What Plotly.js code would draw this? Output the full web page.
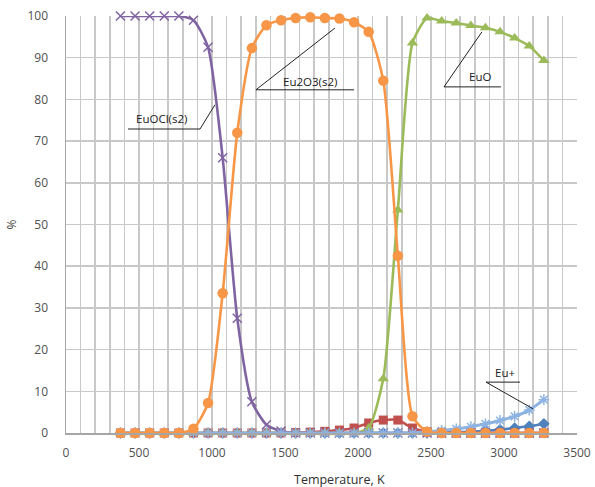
<!DOCTYPE html>
<html>
<head>
<meta charset="utf-8">
<script src="https://cdn.plot.ly/plotly-3.0.1.min.js"></script>
<style>html,body{margin:0;padding:0;background:#fff}#chart{width:595px;height:487px}</style>
</head>
<body>
<div id="chart"></div>
<script>
const temperature = [373,473,573,673,773,873,973,1073,1173,1273,1373,1473,1573,1673,1773,1873,1973,2073,2173,2273,2373,2473,2573,2673,2773,2873,2973,3073,3173,3273];
const euBlue  = [0,0,0,0,0,0,0,0,0,0,0,0,0,0,0,0,0,0,0,0,0,0,0.1,0.2,0.3,0.5,0.8,1.2,1.6,2.2];
const euRed   = [0,0,0,0,0,0,0,0,0,0,0,0,0.1,0.2,0.4,0.7,1.2,2.4,3.1,3.1,1.2,0.3,0,0,0,0,0,0,0,0];
const euO     = [0,0,0,0,0,0,0,0,0,0,0,0,0,0,0,0,0,1.2,13,53.5,93.5,99.5,98.8,98.3,97.7,97.2,96.2,94.7,92.8,89.3];
const euOCl   = [100,100,100,100,100,99,92.5,66,27.5,7.5,2,0.5,0,0,0,0,0,0,0,0,0,0,0,0,0,0,0,0,0,0];
const euPlus  = [0,0,0,0,0,0,0,0,0,0,0,0,0,0,0,0,0,0,0,0,0,0.3,0.6,1.0,1.5,2.2,3.0,4.0,5.5,8.0];
const eu2O3   = [0,0,0,0,0,1,7.2,33.5,72,92.3,97.8,99,99.5,99.7,99.5,99.4,98.5,96.2,84.5,42.5,4,0.3,0,0,0,0,0,0,0,0];
const xTickLabels = ['0','500','1000','1500','2000','2500','3000','3500'];
const yTickVals = [0,10,20,30,40,50,60,70,80,90,100];

// one vertical gridline every 100 K, labelled every 500 K
const xGridVals = [], xGridText = [];
for (let v = 0; v <= 3500; v += 100) {
  xGridVals.push(v);
  xGridText.push(xTickLabels.includes(String(v)) ? String(v) : '');
}

function tr(name, y, color, symbol, size, mline, lw) {
  return {
    x: temperature, y: y, name: name, type: 'scatter', mode: 'lines+markers',
    line: {color: color, width: lw || 2.6, shape: 'spline', smoothing: 0.6},
    marker: {color: color, symbol: symbol, size: size, line: mline || {width: 0}},
    cliponaxis: false, showlegend: false
  };
}
const data = [
  tr('Eu', euBlue, '#4F81BD', 'diamond', 9),
  tr('EuCl', euRed, '#C0504D', 'square', 9),
  tr('EuO', euO, '#9BBB59', 'triangle-up', 10),
  tr('EuOCl(s2)', euOCl, '#8064A2', 'x-thin-open', 9, {color: '#8064A2', width: 1.5}),
  tr('Eu+', euPlus, '#8DB3E2', 'asterisk-open', 9, {color: '#8DB3E2', width: 1.5}, 3),
  tr('Eu2O3(s2)', eu2O3, '#F79646', 'circle', 10.5)
];

const lab = {family: 'Open Sans, Liberation Sans, sans-serif', size: 11.5, color: '#202020'};
function label(x, y, text) {
  return {x: x, y: y, xref: 'x', yref: 'y', text: text, showarrow: false, font: lab};
}
// underline from xa to xb at height y, then leader from xb to (xt, yt)
function leader(xa, xb, y, xt, yt) {
  return {type: 'path', xref: 'x', yref: 'y',
    path: 'M ' + xa + ' ' + y + ' L ' + xb + ' ' + y + ' L ' + xt + ' ' + yt,
    line: {color: '#222', width: 1}};
}

const layout = {
  width: 595, height: 487,
  margin: {l: 66, r: 18, t: 16, b: 54},
  paper_bgcolor: '#fff', plot_bgcolor: '#fff',
  font: {family: 'Open Sans, Liberation Sans, sans-serif', color: '#404040', size: 11},
  xaxis: {
    range: [0, 3500], tickvals: xGridVals, ticktext: xGridText,
    showgrid: true, gridcolor: '#c8c8c8', gridwidth: 1.5,
    zeroline: false, showline: true, linecolor: '#a6a6a6', linewidth: 1.5,
    ticks: 'outside', ticklen: 8, tickcolor: 'rgba(0,0,0,0)',
    tickfont: {size: 12, color: '#505050'}, fixedrange: true
  },
  yaxis: {
    range: [0, 100], tickvals: yTickVals, ticktext: yTickVals.map(String),
    showgrid: true, gridcolor: '#c8c8c8', gridwidth: 1.5,
    zeroline: false, showline: true, linecolor: '#a6a6a6', linewidth: 1.5,
    ticks: 'outside', ticklen: 14, tickcolor: 'rgba(0,0,0,0)',
    tickfont: {size: 12, color: '#505050'},
    title: {text: '%', font: {size: 12, color: '#404040'}, standoff: 8}, fixedrange: true
  },
  annotations: [
    label(657, 75.5, 'EuOCl(s2)'),
    label(1671, 84.2, 'Eu2O3(s2)'),
    label(2836, 85.4, 'EuO'),
    label(3007, 14.4, 'Eu+'),
    {xref: 'paper', yref: 'paper', x: 0.536, y: 0, yanchor: 'top', yshift: -36,
     text: 'Temperature, K', showarrow: false, font: {size: 12.5, color: '#303030'}}
  ],
  shapes: [
    leader(425, 918, 72.9, 1020, 78.7),
    leader(1973, 1301, 82.3, 1842, 97.1),
    leader(2979, 2589, 83, 2849, 96.2),
    leader(3110, 2877, 12.2, 3199, 5.8)
  ]
};
Plotly.newPlot('chart', data, layout, {displayModeBar: false, staticPlot: true});
</script>
</body>
</html>
